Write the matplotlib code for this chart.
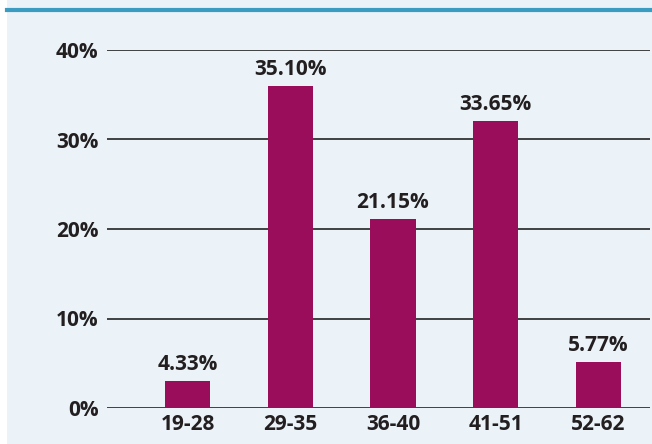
import matplotlib
matplotlib.use('Agg')
import matplotlib.pyplot as plt
from matplotlib.patches import Rectangle
from matplotlib.lines import Line2D

# --- data ---
age_groups = ["19-28", "29-35", "36-40", "41-51", "52-62"]
# bar heights as drawn in the picture (the printed labels differ a bit)
bar_heights = [3.05, 35.95, 21.13, 32.07, 5.17]
bar_labels = ["4.33%", "35.10%", "21.15%", "33.65%", "5.77%"]
y_ticks = [0, 10, 20, 30, 40]
y_tick_labels = ["0%", "10%", "20%", "30%", "40%"]

BG = "#ebf3f8"
BAR = "#990d5a"
TOPLINE = "#3c9bc0"
TEXT = "#231f20"
FONT = "Open Sans"
FS = 15

fig = plt.figure(figsize=(6.52, 4.44), dpi=100)
fig.patch.set_facecolor("white")
fig.add_artist(Rectangle((7 / 652, 0), 1, 1, transform=fig.transFigure,
                         facecolor=BG, edgecolor="none", zorder=-10))
fig.add_artist(Line2D([7 / 652, 1], [1 - 10 / 444] * 2, transform=fig.transFigure,
                      color=TOPLINE, linewidth=3, zorder=-5))

ax = fig.add_axes([107 / 652, 36 / 444, 543 / 652, 358 / 444])
ax.set_zorder(5)
ax.set_facecolor("none")

x = range(len(age_groups))
bars = ax.bar(x, bar_heights, width=0.44, color=BAR, zorder=3)
for b, lab in zip(bars, bar_labels):
    ax.annotate(lab, (b.get_x() + b.get_width() / 2, b.get_height()),
                xytext=(0, 8), textcoords="offset points",
                ha="center", va="baseline", fontsize=FS, fontweight="bold",
                color=TEXT, family=FONT, annotation_clip=False)

for t in y_ticks:
    ax.axhline(t, color="#333333", linewidth=1.3, zorder=2)

ax.set_xlim(-0.783, 4.5)
ax.set_ylim(0, 40)
ax.set_xticks(list(x))
ax.set_xticklabels(age_groups)
ax.set_yticks(y_ticks)
ax.set_yticklabels(y_tick_labels)
ax.tick_params(axis="y", length=0, pad=6)
ax.tick_params(axis="x", length=0, pad=4)
for lab in ax.get_xticklabels() + ax.get_yticklabels():
    lab.set_fontsize(FS)
    lab.set_fontweight("bold")
    lab.set_color(TEXT)
    lab.set_family(FONT)
for s in ax.spines.values():
    s.set_visible(False)

fig.savefig("out.png", dpi=100, facecolor=fig.get_facecolor())
